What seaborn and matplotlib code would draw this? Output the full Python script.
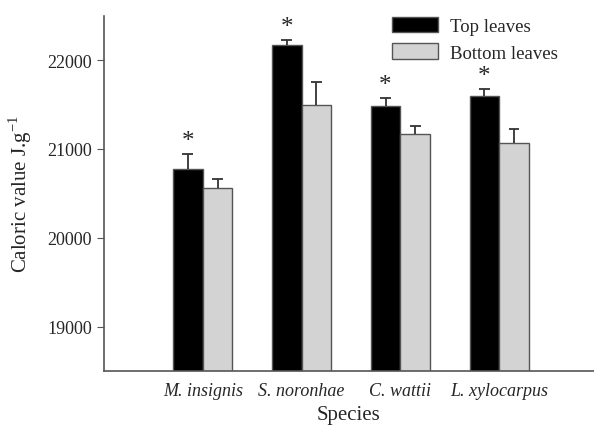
import numpy as np
import pandas as pd
import matplotlib.pyplot as plt
import seaborn as sns

species = ["M. insignis", "S. noronhae", "C. wattii", "L. xylocarpus"]
top_mean = [20780, 22170, 21480, 21595]
top_err = [160, 55, 90, 80]
bottom_mean = [20560, 21495, 21165, 21070]
bottom_err = [100, 265, 90, 155]
leaves = ["Top leaves", "Bottom leaves"]

df = pd.DataFrame({
    "Species": species * 2,
    "Leaves": [leaves[0]] * 4 + [leaves[1]] * 4,
    "value": top_mean + bottom_mean,
    "err": top_err + bottom_err,
})

sns.set_style("ticks")
plt.rcParams["font.family"] = ["Liberation Serif", "DejaVu Serif"]

fig = plt.figure(figsize=(5.94, 4.31), dpi=100)
ax = fig.add_axes([0.175, 0.137, 0.825, 0.824])

sns.barplot(data=df, x="Species", y="value", hue="Leaves", hue_order=leaves,
            palette=["black", "#d3d3d3"], errorbar=None, width=0.6,
            edgecolor="#555555", linewidth=1.0, ax=ax)

# upward-only error bars, asterisks over top leaves
for i, lv in enumerate(leaves):
    sub = df[df["Leaves"] == lv]
    cont = ax.containers[i]
    xs = np.array([p.get_x() + p.get_width() / 2 for p in cont.patches])
    v = sub["value"].to_numpy()
    e = sub["err"].to_numpy()
    ax.vlines(xs, v, v + e, color="#333333", linewidth=1.3)
    ax.hlines(v + e, xs - 0.055, xs + 0.055, color="#333333", linewidth=1.3)
    if i == 0:
        for x, yv in zip(xs, v + e):
            ax.text(x, yv + 25, "*", ha="center", va="bottom", fontsize=18)

ax.set_ylim(18500, 22500)
ax.set_xlim(-1.0, 3.96)
ax.set_yticks([19000, 20000, 21000, 22000])
ax.tick_params(axis="y", labelsize=13, direction="out", length=5, color="#555555")
ax.tick_params(axis="x", labelsize=13, length=0, pad=8)
for lbl in ax.get_xticklabels():
    lbl.set_fontstyle("italic")
ax.set_xlabel("Species", fontsize=15, labelpad=4)
ax.set_ylabel("Caloric value J.g$^{\\mathregular{-1}}$", fontsize=15, labelpad=10)
sns.despine(ax=ax)
for s in ["left", "bottom"]:
    ax.spines[s].set_color("#555555")
    ax.spines[s].set_linewidth(1.2)

leg = ax.legend(loc="upper right", bbox_to_anchor=(0.96, 1.045), frameon=False,
                fontsize=13.5, handlelength=2.5, handleheight=0.9,
                labelspacing=0.45, handletextpad=0.6)

fig.savefig("out.png", dpi=100)
